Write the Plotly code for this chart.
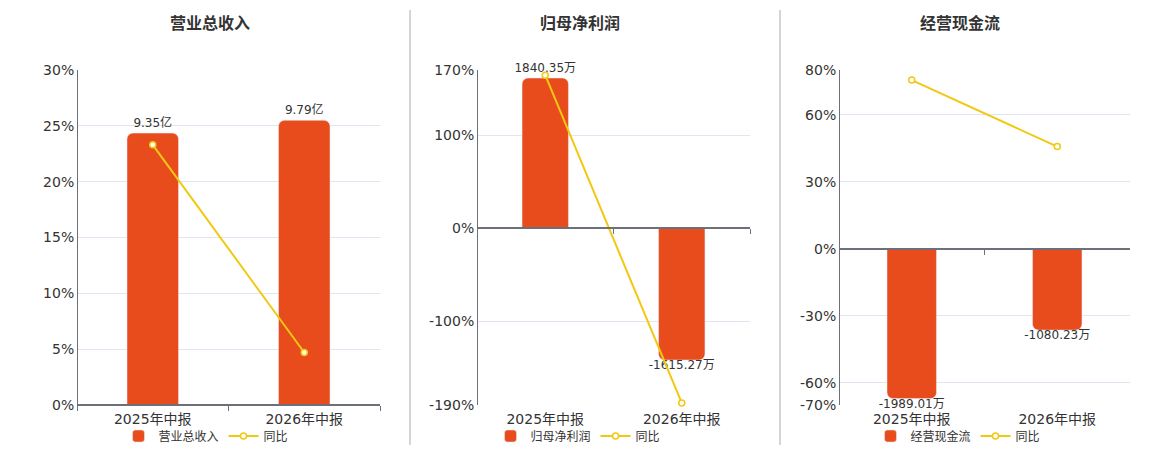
import plotly.graph_objects as go

W, H = 1160, 450
OFF = 8  # the page body adds an 8px margin, so positions are shifted back

periods = ["2025年中报", "2026年中报"]

revenue = [9.35, 9.79]          # 亿
revenue_yoy = [23.3, 4.7]       # %
profit = [1840.35, -1615.27]    # 万
profit_yoy = [164.4, -187.8]    # %
cashflow = [-1989.01, -1080.23] # 万
cashflow_yoy = [75.5, 45.7]     # %

titles = ["营业总收入", "归母净利润", "经营现金流"]
units = ["亿", "万", "万"]
pct_ticks = [
    [0, 5, 10, 15, 20, 25, 30],
    [-190, -100, 0, 100, 170],
    [-70, -60, -30, 0, 30, 60, 80],
]

BAR = "#e84c1d"
LINE = "#f2c811"
AXIS = "#6e7079"
GRID = "#e0e6f1"
FONT = "DejaVu Sans, Noto Sans CJK SC, sans-serif"

# plot areas in screen pixels: (left, right), top/bottom shared
panels = [(77, 380), (477, 750), (839, 1130)]
top_px, bot_px = 70, 405
bar_top = [11.52, 1938.5, 2370]   # top of hidden amount axis
title_x = [210, 580, 960]
legend_x = [206, 578, 958]

bars = [revenue, profit, cashflow]
yoys = [revenue_yoy, profit_yoy, cashflow_yoy]


def px_x(p):
    return (p - OFF) / W


def px_y(p):
    return 1 - (p - OFF) / H


def sfx(n):
    return "" if n == 1 else str(n)


fig = go.Figure()
layout = {}
ydom = [px_y(bot_px), px_y(top_px)]

for i in range(3):
    bx, by = i + 1, i + 1          # bar axes
    lx, ly = i + 4, i + 4          # line axes (overlay)
    xdom = [px_x(panels[i][0]), px_x(panels[i][1])]
    pmin, pmax = pct_ticks[i][0], pct_ticks[i][-1]
    amin = bar_top[i] * pmin / pmax
    labels = [f"{v:.2f}{units[i]}" for v in bars[i]]

    fig.add_trace(go.Bar(
        x=periods, y=bars[i], name=titles[i],
        xaxis="x" + sfx(bx), yaxis="y" + sfx(by),
        marker=dict(color=BAR, cornerradius=6),
        width=0.34,
        text=[t if v > 0 else "" for t, v in zip(labels, bars[i])],
        textposition="outside",
        textfont=dict(size=12, color="#333"), cliponaxis=False,
        constraintext="none", textangle=0,
        legend="legend" + sfx(i + 1),
    ))
    # labels under the negative bars sit a little closer than plotly's outside text
    neg = [k for k, v in enumerate(bars[i]) if v < 0]
    if neg:
        fig.add_trace(go.Scatter(
            x=[periods[k] for k in neg], y=[bars[i][k] for k in neg],
            text=[labels[k] for k in neg], mode="text",
            textposition="bottom center",
            textfont=dict(size=12, color="#333"),
            xaxis="x" + sfx(bx), yaxis="y" + sfx(by),
            showlegend=False, hoverinfo="skip", cliponaxis=False,
        ))
    fig.add_trace(go.Scatter(
        x=periods, y=yoys[i], name="同比", mode="lines+markers",
        xaxis="x" + sfx(lx), yaxis="y" + sfx(ly),
        line=dict(color=LINE, width=2),
        marker=dict(color="white", size=6, line=dict(color=LINE, width=1.5)),
        cliponaxis=False,
        legend="legend" + sfx(i + 1),
    ))

    zero_pos = ydom[0] + (0 - pmin) / (pmax - pmin) * (ydom[1] - ydom[0])

    layout["xaxis" + sfx(bx)] = dict(
        domain=xdom, anchor="y" + sfx(by), type="category",
        range=[-0.5, 1.5], showline=False, ticks="", showgrid=False,
        tickfont=dict(size=14, color="#333"), ticklabelstandoff=4,
    )
    layout["yaxis" + sfx(by)] = dict(
        domain=ydom, anchor="x" + sfx(bx), range=[amin, bar_top[i]],
        visible=False, showgrid=False, zeroline=False,
    )
    layout["xaxis" + sfx(lx)] = dict(
        overlaying="x" + sfx(bx), anchor="free", position=zero_pos,
        type="category", range=[-0.5, 1.5], showline=True,
        linecolor=AXIS, linewidth=2, ticks="outside", tickson="boundaries",
        ticklen=5, tickcolor=AXIS, showticklabels=False, showgrid=False,
    )
    layout["yaxis" + sfx(ly)] = dict(
        overlaying="y" + sfx(by), anchor="free", position=xdom[0],
        range=[pmin, pmax], tickvals=pct_ticks[i],
        ticktext=[f"{v}%" for v in pct_ticks[i]],
        showgrid=True, gridcolor=GRID, zeroline=False,
        showline=True, linecolor=AXIS, linewidth=1, ticks="",
        tickfont=dict(size=14, color="#333"),
    )
    layout["legend" + sfx(i + 1)] = dict(
        x=px_x(legend_x[i]), y=px_y(436), xanchor="center", yanchor="middle",
        orientation="h", font=dict(size=12, color="#333"),
        bgcolor="rgba(0,0,0,0)", tracegroupgap=0,
    )

annotations = [
    dict(x=px_x(title_x[i]), y=px_y(22), xref="paper", yref="paper",
         xanchor="center", yanchor="middle",
         text="<b>" + titles[i] + "</b>", showarrow=False,
         font=dict(size=16, color="#333", family="Noto Sans CJK SC"))
    for i in range(3)
]

shapes = [
    dict(type="line", xref="paper", yref="paper", x0=px_x(x), x1=px_x(x),
         y0=px_y(445), y1=px_y(10), line=dict(color="#aaaaaa", width=1))
    for x in (410, 780)
]

fig.update_layout(
    width=W, height=H,
    margin=dict(l=0, r=0, t=0, b=0, autoexpand=False),
    paper_bgcolor="white", plot_bgcolor="white",
    font=dict(family=FONT, color="#333"),
    annotations=annotations, shapes=shapes,
    **layout,
)

fig.write_html("out.html")
